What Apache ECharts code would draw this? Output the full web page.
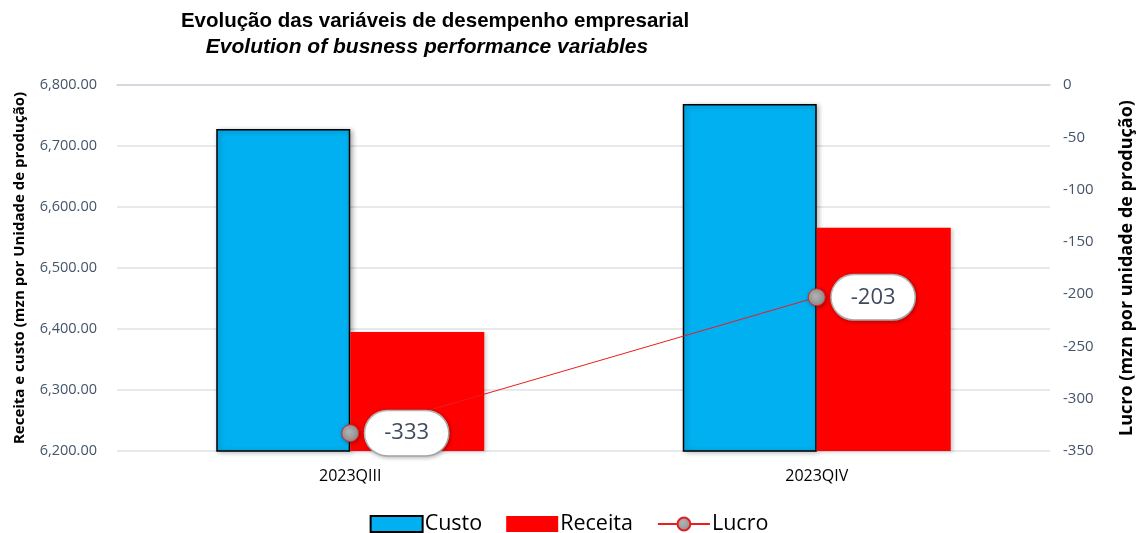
<!DOCTYPE html>
<html>
<head>
<meta charset="utf-8">
<script src="https://cdn.jsdelivr.net/npm/echarts@6/dist/echarts.min.js"></script>
<style>html,body{margin:0;padding:0;background:#fff}#c{width:1138px;height:533px}</style>
</head>
<body>
<div id="c"></div>
<script>
const categories = ['2023QIII', '2023QIV'];
const custo = [6728, 6769];
const receita = [6395, 6566];
const lucro = [-333, -203];
const leftTicks = [6200, 6800, 100];
const rightTicks = [-350, 0, 50];

const chart = echarts.init(document.getElementById('c'), null, {renderer: 'canvas'});
const labelFont = '"Open Sans", "Noto Sans", sans-serif';
chart.setOption({
  animation: false,
  backgroundColor: '#fff',
  title: [{
    text: 'Evolução das variáveis de desempenho empresarial',
    left: 430, top: 6, textAlign: 'center',
    textStyle: {fontFamily: '"Liberation Sans", Arial, sans-serif', fontWeight: 'bold', fontSize: 20.5, color: '#000'}
  }, {
    text: 'Evolution of busness performance variables',
    left: 422, top: 32, textAlign: 'center',
    textStyle: {fontFamily: '"Liberation Sans", Arial, sans-serif', fontWeight: 'bold', fontStyle: 'italic', fontSize: 21, color: '#000'}
  }],
  grid: {left: 117, right: 88, top: 85, bottom: 82, outerBoundsMode: 'none', containLabel: false},
  legend: {
    bottom: -7, left: 'center',
    itemWidth: 52, itemHeight: 16, itemGap: 24,
    textStyle: {fontFamily: labelFont, fontSize: 21.5, color: '#000', padding: [0, 0, 0, -3]},
    data: [
      {name: 'Custo', icon: 'rect', itemStyle: {color: '#00b0f0', borderColor: '#000', borderWidth: 2}},
      {name: 'Receita', icon: 'rect', itemStyle: {color: '#ff0000', borderWidth: 0}},
      {name: 'Lucro'}
    ]
  },
  xAxis: {
    type: 'category', data: categories,
    axisLine: {lineStyle: {color: '#d0d4da', width: 1.5}},
    axisTick: {show: false},
    axisLabel: {fontFamily: labelFont, fontSize: 16, color: '#000', margin: 17}
  },
  yAxis: [{
    type: 'value', min: leftTicks[0], max: leftTicks[1], interval: leftTicks[2],
    name: 'Receita e custo (mzn por Unidade de produção)',
    nameLocation: 'middle', nameRotate: 90, nameGap: 90,
    nameTextStyle: {fontFamily: labelFont, fontWeight: 'bold', fontSize: 15, color: '#000'},
    axisLine: {show: false}, axisTick: {show: false},
    axisLabel: {fontFamily: labelFont, fontSize: 14.5, color: '#44546a', margin: 20,
      formatter: v => v.toLocaleString('en-US', {minimumFractionDigits: 2, maximumFractionDigits: 2})},
    splitLine: {lineStyle: {color: '#dfe2e7', width: 1.5}}
  }, {
    type: 'value', min: rightTicks[0], max: rightTicks[1], interval: rightTicks[2],
    name: 'Lucro (mzn por unidade de produção)',
    nameLocation: 'middle', nameRotate: 90, nameGap: 68,
    nameTextStyle: {fontFamily: labelFont, fontWeight: 'bold', fontSize: 18, color: '#000'},
    axisLine: {show: false}, axisTick: {show: false},
    axisLabel: {fontFamily: labelFont, fontSize: 15, color: '#44546a', margin: 13},
    splitLine: {show: false}
  }],
  series: [{
    name: 'Custo', type: 'bar', data: custo, barWidth: 134, barGap: '0%',
    itemStyle: {color: '#00b0f0', borderColor: '#000', borderWidth: 1.5,
      shadowBlur: 5, shadowColor: 'rgba(0,0,0,0.3)', shadowOffsetX: 2, shadowOffsetY: 1}
  }, {
    name: 'Receita', type: 'bar', data: receita, barWidth: 134,
    itemStyle: {color: '#ff0000', shadowBlur: 4, shadowColor: 'rgba(0,0,0,0.2)', shadowOffsetX: 2, shadowOffsetY: 1}
  }, {
    name: 'Lucro', type: 'line', yAxisIndex: 1, data: lucro, z: 5,
    symbol: 'circle', symbolSize: 17,
    lineStyle: {color: '#ee1c1c', width: 1},
    itemStyle: {
      color: new echarts.graphic.RadialGradient(0.4, 0.4, 0.7, [
        {offset: 0, color: '#b4b4b4'}, {offset: 1, color: '#8a8a8a'}]),
      borderColor: '#e02020', borderWidth: 1,
      shadowBlur: 4, shadowColor: 'rgba(0,0,0,0.35)', shadowOffsetX: 1, shadowOffsetY: 1
    },
    label: {
      show: true, position: 'right', distance: 6,
      fontFamily: labelFont, fontSize: 22, color: '#3f4a5c',
      backgroundColor: '#fff', borderColor: '#bdbdbd', borderWidth: 1.5,
      borderRadius: 26, padding: [11, 19, 11, 19],
      shadowBlur: 4, shadowColor: 'rgba(0,0,0,0.25)', shadowOffsetX: 1, shadowOffsetY: 1
    }
  }]
});
</script>
</body>
</html>
